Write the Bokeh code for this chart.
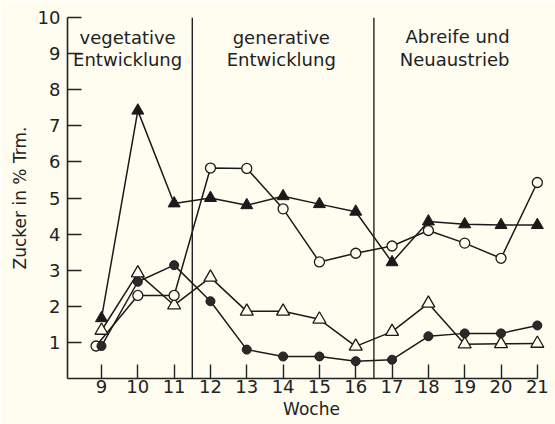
from bokeh.plotting import figure
from bokeh.models import FixedTicker, Range1d
from bokeh.core.properties import value
from bokeh.embed import file_html
from bokeh.resources import INLINE

BG = "#fefdf0"
FONT = "DejaVu Sans"

weeks = [9, 10, 11, 12, 13, 14, 15, 16, 17, 18, 19, 20, 21]
weeks_open_circle = [8.85, 10, 11, 12, 13, 14, 15, 16, 17, 18, 19, 20, 21]
filled_triangle = [1.67, 7.42, 4.85, 5.0, 4.8, 5.05, 4.83, 4.62, 3.22, 4.35, 4.27, 4.25, 4.25]
open_circle = [0.9, 2.3, 2.3, 5.83, 5.82, 4.7, 3.23, 3.47, 3.67, 4.1, 3.75, 3.33, 5.43]
open_triangle = [1.33, 2.92, 2.03, 2.8, 1.86, 1.86, 1.64, 0.89, 1.3, 2.08, 0.95, 0.96, 0.97]
filled_circle = [0.9, 2.68, 3.14, 2.14, 0.8, 0.61, 0.61, 0.48, 0.52, 1.17, 1.25, 1.25, 1.47]

phase_bounds = [11.5, 16.5]
y_ticks = [1, 2, 3, 4, 5, 6, 7, 8, 9, 10]

label_text = ["vegetative", "Entwicklung", "generative", "Entwicklung"]
label_x = [9.72, 9.72, 13.95, 13.95]
label_y = [9.45, 8.85, 9.45, 8.85]
label2_text = ["Abreife  und", "Neuaustrieb"]
label2_x = [17.37, 17.21]
label2_y = [9.47, 8.85]

p = figure(width=555, height=424, output_backend="svg", toolbar_location=None,
           x_range=Range1d(8.064, 21.5), y_range=Range1d(0, 10),
           min_border_left=67, min_border_right=0, min_border_top=17, min_border_bottom=46,
           background_fill_color=BG, border_fill_color=BG)
p.outline_line_color = None
p.grid.visible = False

for ax in (p.xaxis, p.yaxis):
    ax.axis_line_color = "#222222"
    ax.axis_line_width = 1.6
    ax.major_tick_line_color = "#222222"
    ax.major_tick_line_width = 1.4
    ax.major_tick_in = 14
    ax.major_tick_out = 0
    ax.minor_tick_line_color = None
    ax.major_label_text_font = FONT
    ax.major_label_text_font_size = "18px"
    ax.major_label_text_color = "#222222"
    ax.axis_label_text_font = FONT
    ax.axis_label_text_font_size = "17px"
    ax.axis_label_text_font_style = "normal"
    ax.axis_label_text_color = "#222222"

p.xaxis.ticker = FixedTicker(ticks=weeks)
p.xaxis.bounds = (8.064, 21)
p.xaxis.major_label_standoff = 1
p.xaxis.axis_label = "Woche"
p.xaxis.axis_label_standoff = 3
p.yaxis.ticker = FixedTicker(ticks=y_ticks)
p.yaxis.major_label_standoff = 7
p.yaxis.axis_label = "Zucker in % Trm."
p.yaxis.axis_label_standoff = 5

p.segment(x0=phase_bounds, x1=phase_bounds, y0=[0, 0], y1=[10, 10],
          line_color="#222222", line_width=1.4)

LC = "#1a1a1a"
LW = 1.5
p.line(weeks, filled_triangle, line_color=LC, line_width=LW)
p.line(weeks_open_circle, open_circle, line_color=LC, line_width=LW)
p.line(weeks, open_triangle, line_color=LC, line_width=LW)
p.line(weeks, filled_circle, line_color=LC, line_width=LW)

p.scatter(weeks, filled_triangle, marker="triangle", size=12, fill_color=LC, line_color=LC)
p.scatter(weeks, open_triangle, marker="triangle", size=13, fill_color=BG, line_color=LC, line_width=1.3)
p.scatter(weeks_open_circle, open_circle, marker="circle", size=10, fill_color=BG, line_color=LC, line_width=1.3)
p.scatter(weeks, filled_circle, marker="circle", size=9, fill_color="#2a2a2a", line_color=LC)

p.text(x=label_x, y=label_y, text=label_text, text_align="center", text_baseline="alphabetic",
       text_font=value(FONT), text_font_size="18px", text_color="#222222")
p.text(x=label2_x, y=label2_y, text=label2_text, text_align="left", text_baseline="alphabetic",
       text_font=value(FONT), text_font_size="18px", text_color="#222222")

open("out.html", "w").write(file_html(p, INLINE))
